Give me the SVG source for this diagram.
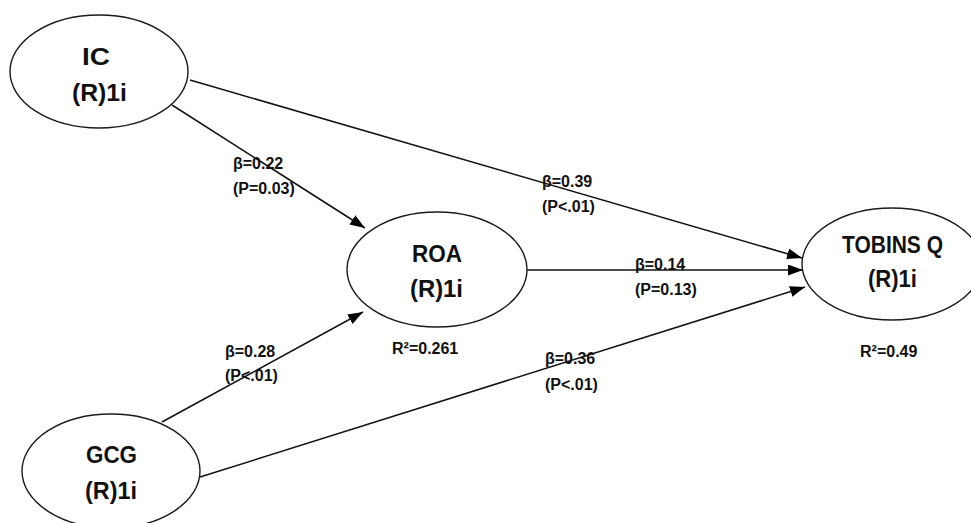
<svg xmlns="http://www.w3.org/2000/svg" width="971" height="523" viewBox="0 0 971 523">
  <defs>
    <marker id="arrow" markerUnits="userSpaceOnUse" markerWidth="16" markerHeight="12" refX="15" refY="5.5" orient="auto">
      <path d="M0,0 L15,5.5 L0,11 z" fill="#000"/>
    </marker>
  </defs>
  <style>
    .node ellipse { fill: #fff; stroke: #1a1a1a; stroke-width: 1.4; }
    .node text { font-family: "Liberation Sans", Arial, sans-serif; font-weight: bold; font-size: 24px; fill: #111; }
    .conn line { stroke: #111; stroke-width: 1.5; marker-end: url(#arrow); }
    .lbl { font-family: "Liberation Sans", Arial, sans-serif; font-weight: bold; font-size: 16px; fill: #111; }
  </style>
  <rect width="971" height="523" fill="#fff"/>

  <g id="connectors" class="conn">
    <line x1="172" y1="105" x2="365" y2="228"/>
    <line x1="190" y1="80" x2="802" y2="258"/>
    <line x1="527" y1="270" x2="803" y2="270"/>
    <line x1="162" y1="422" x2="363" y2="312"/>
    <line x1="200" y1="477" x2="805" y2="287"/>
  </g>

  <g id="node-ic" class="node">
    <ellipse cx="99" cy="71.5" rx="89" ry="56.5"/>
    <text x="82" y="65" textLength="28" lengthAdjust="spacingAndGlyphs">IC</text>
    <text x="72" y="101" textLength="55" lengthAdjust="spacingAndGlyphs">(R)1i</text>
  </g>
  <g id="node-roa" class="node">
    <ellipse cx="437" cy="269.5" rx="90" ry="57.5"/>
    <text x="412" y="262" textLength="50" lengthAdjust="spacingAndGlyphs">ROA</text>
    <text x="410" y="297" textLength="53" lengthAdjust="spacingAndGlyphs">(R)1i</text>
  </g>
  <g id="node-tobins" class="node">
    <ellipse cx="892" cy="264" rx="90" ry="56"/>
    <text x="842" y="253" textLength="101" lengthAdjust="spacingAndGlyphs">TOBINS Q</text>
    <text x="868" y="287" textLength="49" lengthAdjust="spacingAndGlyphs">(R)1i</text>
  </g>
  <g id="node-gcg" class="node">
    <ellipse cx="111" cy="471" rx="89" ry="57"/>
    <text x="86" y="463" textLength="51" lengthAdjust="spacingAndGlyphs">GCG</text>
    <text x="85" y="499" textLength="52" lengthAdjust="spacingAndGlyphs">(R)1i</text>
  </g>

  <g id="labels">
    <text class="lbl" x="233" y="169">β=0.22</text>
    <text class="lbl" x="233" y="194">(P=0.03)</text>
    <text class="lbl" x="542" y="187">β=0.39</text>
    <text class="lbl" x="542" y="212">(P&lt;.01)</text>
    <text class="lbl" x="635" y="270">β=0.14</text>
    <text class="lbl" x="635" y="295">(P=0.13)</text>
    <text class="lbl" x="225" y="357">β=0.28</text>
    <text class="lbl" x="225" y="381">(P&lt;.01)</text>
    <text class="lbl" x="545" y="364">β=0.36</text>
    <text class="lbl" x="545" y="390">(P&lt;.01)</text>
    <text class="lbl" x="392" y="354">R²=0.261</text>
    <text class="lbl" x="860" y="357">R²=0.49</text>
  </g>
</svg>
